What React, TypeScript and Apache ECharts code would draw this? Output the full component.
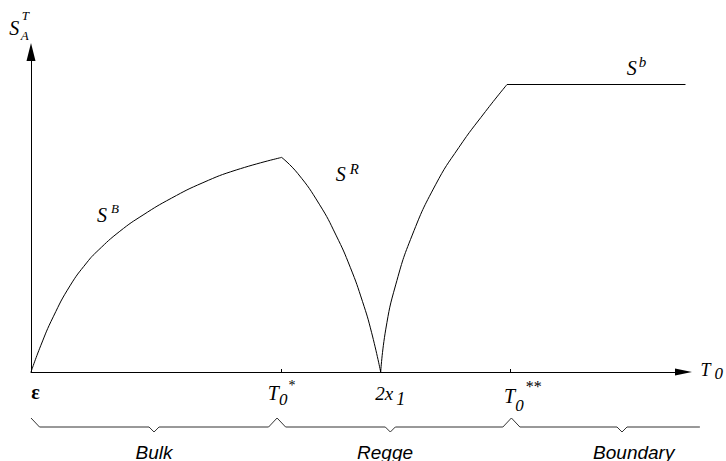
import React, { useEffect, useRef } from 'react';
import * as echarts from 'echarts';

// Marked positions on the T0 axis: ε, T0*, 2x1, T0**
const xTickValues = [0, 38.3, 53.43, 73.25];
const xTickLabels = ['{eps|ε}', '{t|T}{sub|0}{sup|*}', '{n|2x}{nsub|1}', '{t2|T}{sub2|0}{sup2|**}'];

// S^B : bulk entropy growth
const bulkCurve = [
  [0, 0], [1.48, 8.19], [3.4, 17.25], [5.95, 26.91], [8.49, 34.09], [10.26, 38.0],
  [13.57, 43.97], [17.12, 49.06], [21.45, 54.31], [26.27, 59.16], [31.36, 63.13], [38.3, 67.06],
];
// S^R : Regge decay
const reggeCurve = [
  [38.3, 67.06], [40.75, 62.06], [44.05, 52.44], [46.6, 42.78], [48.78, 32.72],
  [50.66, 21.97], [52.03, 12.41], [53.43, 0],
];
// rise towards the boundary value
const boundaryRise = [
  [53.43, 0], [54.19, 13.16], [55.72, 27.22], [58.25, 42.78], [61.81, 58.5],
  [65.37, 70.16], [69.44, 81.41], [72.73, 89.84],
];
// S^b : boundary plateau
const boundaryFlat = [[72.73, 89.84], [100, 89.84]];

// Regions under the axis
const regionNames = ['Bulk', 'Regge', 'Boundary'];
const regionStarts = [0, 37.6, 73.4];
const regionEnds = [37.6, 73.4, 102.2];
const regionTips = [18.8, 54.9, 90.3];
const regionLabelAt = [18.8, 54.1, 92.1];

const SERIF = 'Liberation Serif';
const SANS = 'Liberation Sans';
const serifFont = (size: number) => `italic ${size}px '${SERIF}', serif`;

export default function App() {
  const ref = useRef<HTMLDivElement>(null);

  useEffect(() => {
    document.body.style.margin = '0';
    if (!ref.current) return;
    const chart = echarts.init(ref.current, null, { renderer: 'svg' });

    const lineSeries = (data: number[][], smooth: number | boolean) => ({
      type: 'line',
      data,
      showSymbol: false,
      smooth,
      lineStyle: { color: '#000', width: 1 },
      itemStyle: { color: '#000' },
      silent: true,
      clip: false,
    });

    const it = { fontFamily: SERIF, fontStyle: 'italic', color: '#000' };

    chart.setOption({
      animation: false,
      backgroundColor: '#fff',
      textStyle: { fontFamily: SERIF, color: '#000' },
      grid: { left: 31, right: 39, top: 52, bottom: 89, containLabel: false },
      xAxis: {
        type: 'value',
        min: 0,
        max: 100,
        splitLine: { show: false },
        axisLine: {
          show: true,
          symbol: ['none', 'triangle'],
          symbolSize: [7, 17],
          symbolOffset: [0, -2],
          lineStyle: { color: '#000', width: 1 },
        },
        axisTick: {
          show: true,
          inside: true,
          length: 3,
          customValues: xTickValues,
          lineStyle: { color: '#000', width: 1 },
        },
        axisLabel: {
          show: true,
          margin: 6,
          customValues: xTickValues,
          color: '#000',
          formatter: (v: number) => {
            const i = xTickValues.findIndex((t) => Math.abs(t - v) < 1e-6);
            return i >= 0 ? xTickLabels[i] : '';
          },
          rich: {
            eps: { fontFamily: SERIF, fontSize: 20, fontWeight: 'bold', lineHeight: 28, padding: [0, 0, 0, 9], color: '#000' },
            t: { ...it, fontSize: 20, lineHeight: 30 },
            sub: { ...it, fontSize: 17, lineHeight: 16, verticalAlign: 'bottom' },
            sup: { fontFamily: SERIF, fontSize: 14, lineHeight: 24, verticalAlign: 'top', padding: [0, 0, 0, 1], color: '#000' },
            n: { ...it, fontSize: 19, lineHeight: 30, padding: [0, 0, 0, 19] },
            nsub: { ...it, fontSize: 18, lineHeight: 12, verticalAlign: 'bottom', padding: [0, 0, 0, 3] },
            t2: { ...it, fontSize: 20, lineHeight: 36, padding: [0, 0, 0, 25] },
            sub2: { ...it, fontSize: 17, lineHeight: 16, verticalAlign: 'bottom' },
            sup2: { fontFamily: SERIF, fontSize: 16, lineHeight: 20, verticalAlign: 'top', padding: [0, 0, 0, 2], color: '#000' },
          },
        },
        name: '{t|T}{s|0}',
        nameLocation: 'end',
        nameGap: 15,
        nameTextStyle: {
          padding: [0, 0, 4, 0],
          rich: {
            t: { ...it, fontSize: 18, lineHeight: 24 },
            s: { ...it, fontSize: 17, lineHeight: 14, verticalAlign: 'bottom', padding: [0, 0, 0, 4] },
          },
        },
      },
      yAxis: {
        type: 'value',
        min: 0,
        max: 100,
        splitLine: { show: false },
        axisTick: { show: false },
        axisLabel: { show: false },
        axisLine: {
          show: true,
          symbol: ['none', 'triangle'],
          symbolSize: [9, 18],
          symbolOffset: [0, 0],
          lineStyle: { color: '#000', width: 1 },
        },
      },
      series: [
        lineSeries(bulkCurve, 0.5),
        lineSeries(reggeCurve, 0.5),
        lineSeries(boundaryRise, 0.5),
        lineSeries(boundaryFlat, false),
      ],
    });

    const px = (v: number) => chart.convertToPixel({ xAxisIndex: 0 }, v) as number;
    const yTop = 418;
    const yMid = 427;
    const yTip = 432;

    const braces = regionNames.map((_, i) => {
      const a = px(regionStarts[i]);
      const b = px(regionEnds[i]);
      const t = px(regionTips[i]);
      const pts: number[][] = [[a, yTop], [a + 8.5, yMid], [t - 5, yMid], [t, yTip], [t + 5, yMid]];
      if (i < regionNames.length - 1) {
        pts.push([b - 8.5, yMid], [b, yTop]);
      } else {
        pts.push([b, yMid]);
      }
      return {
        type: 'polyline',
        shape: { points: pts },
        style: { stroke: '#333', lineWidth: 1, fill: 'none' },
        silent: true,
      };
    });

    const regionTexts = regionNames.map((name, i) => ({
      type: 'text',
      x: px(regionLabelAt[i]),
      y: 452,
      style: {
        text: name,
        font: `italic 19px '${SANS}', sans-serif`,
        fill: '#000',
        align: 'center',
        verticalAlign: 'middle',
      },
      silent: true,
    }));

    const curveLabel = (x: number, y: number, base: string, script: string, supLH: number, pad: number, size: number) => ({
      type: 'text',
      x,
      y,
      style: {
        text: `{s|${base}}{p|${script}}`,
        font: serifFont(20),
        align: 'left',
        verticalAlign: 'middle',
        fill: '#000',
        rich: {
          s: { font: serifFont(20), lineHeight: 26, fill: '#000' },
          p: { font: serifFont(size), lineHeight: supLH, verticalAlign: 'top', padding: [0, 0, 0, pad], fill: '#000' },
        },
      },
      silent: true,
    });

    const plainText = (x: number, y: number, text: string, size: number) => ({
      type: 'text',
      x,
      y,
      style: {
        text,
        font: serifFont(size),
        fill: '#000',
        align: 'left',
        verticalAlign: 'middle',
      },
      silent: true,
    });

    chart.setOption({
      graphic: [
        ...braces,
        ...regionTexts,
        curveLabel(97, 215, 'S', 'B', 8, 4, 13),
        curveLabel(335.7, 174, 'S', 'R', 14, 4, 15),
        curveLabel(626.7, 67.5, 'S', 'b', 8, 2, 15),
        plainText(9.3, 28.3, 'S', 20),
        plainText(21.7, 15.8, 'T', 13),
        plainText(20.7, 35.8, 'A', 13),
      ],
    });

    return () => chart.dispose();
  }, []);

  return <div ref={ref} style={{ width: 726, height: 461 }} />;
}
